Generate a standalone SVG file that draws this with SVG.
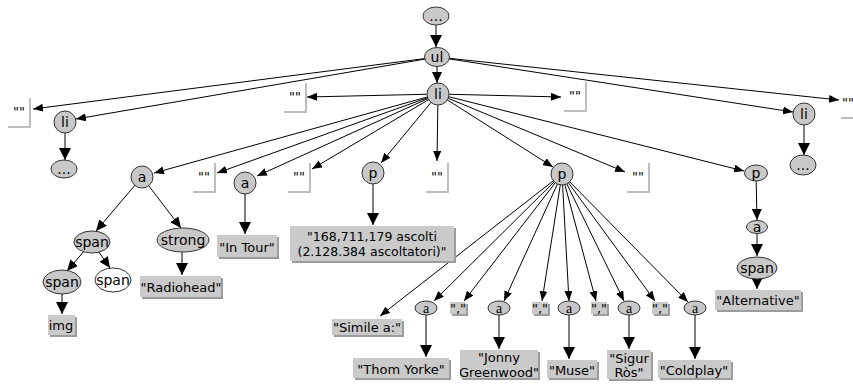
<svg xmlns="http://www.w3.org/2000/svg" width="853" height="385" viewBox="0 0 853 385">
<style>
.n{fill:#c8c8c8;stroke:#333;stroke-width:1}
.w{fill:#fff;stroke:#333;stroke-width:1}
.t{font-family:"DejaVu Sans",sans-serif;font-size:14px;text-anchor:middle;fill:#000}
.s{font-family:"Liberation Serif",serif;font-size:14px;text-anchor:middle;fill:#000}
.lt{font-family:"DejaVu Sans",sans-serif;font-size:13px;text-anchor:middle;fill:#000}
.bx{fill:#cacaca}
.sh{fill:#9c9c9c}
.eb{fill:none;stroke:#bdbdbd;stroke-width:2}
.e{stroke:#000;stroke-width:1;fill:none}
.sm{marker-end:url(#sm)}
.md{marker-end:url(#md)}
.bg{marker-end:url(#bg)}
</style>
<defs>
<marker id="sm" markerUnits="userSpaceOnUse" markerWidth="10" markerHeight="8" refX="10" refY="4" orient="auto"><path d="M0,0 L10,4 L0,8 z" fill="#000"/></marker>
<marker id="md" markerUnits="userSpaceOnUse" markerWidth="11" markerHeight="10" refX="11" refY="5" orient="auto"><path d="M0,0 L11,5 L0,10 z" fill="#000"/></marker>
<marker id="bg" markerUnits="userSpaceOnUse" markerWidth="12" markerHeight="12" refX="12" refY="6" orient="auto"><path d="M0,0 L12,6 L0,12 z" fill="#000"/></marker>
<clipPath id="cj"><rect x="460" y="350" width="78" height="28"/></clipPath>
<clipPath id="cs"><rect x="607" y="350" width="44" height="29"/></clipPath>
</defs>

<g id="connectors">
<line class="e bg" x1="436" y1="25" x2="436" y2="47"/>
<line class="e md" x1="437" y1="57" x2="437" y2="83"/>
<line class="e sm" x1="437" y1="57" x2="33" y2="109"/>
<line class="e sm" x1="437" y1="57" x2="76" y2="119"/>
<line class="e sm" x1="437" y1="57" x2="793" y2="112"/>
<line class="e sm" x1="437" y1="57" x2="839" y2="100"/>
<line class="e bg" x1="65" y1="122" x2="65" y2="160"/>
<line class="e bg" x1="804" y1="114" x2="804" y2="155"/>
<line class="e sm" x1="438" y1="94" x2="307" y2="97"/>
<line class="e sm" x1="438" y1="94" x2="561" y2="97"/>
<line class="e sm" x1="438" y1="94" x2="154" y2="173"/>
<line class="e sm" x1="438" y1="94" x2="217" y2="173"/>
<line class="e sm" x1="438" y1="94" x2="257" y2="176"/>
<line class="e sm" x1="438" y1="94" x2="312" y2="169"/>
<line class="e sm" x1="438" y1="94" x2="381" y2="163"/>
<line class="e sm" x1="438" y1="94" x2="437" y2="161"/>
<line class="e sm" x1="438" y1="94" x2="553" y2="167"/>
<line class="e sm" x1="438" y1="94" x2="625" y2="172"/>
<line class="e sm" x1="438" y1="94" x2="744" y2="171"/>
<line class="e md" x1="142" y1="177" x2="96" y2="231"/>
<line class="e md" x1="142" y1="177" x2="181" y2="228"/>
<line class="e bg" x1="245" y1="183" x2="245" y2="234"/>
<line class="e bg" x1="373" y1="173" x2="373" y2="225"/>
<line class="e bg" x1="182" y1="240" x2="182" y2="275"/>
<line class="e md" x1="92" y1="242" x2="67" y2="271"/>
<line class="e md" x1="92" y1="242" x2="110" y2="268"/>
<line class="e bg" x1="62" y1="282" x2="62" y2="314"/>
<line class="e sm" x1="562" y1="174" x2="380" y2="316"/>
<line class="e sm" x1="562" y1="174" x2="434" y2="301"/>
<line class="e sm" x1="562" y1="174" x2="464" y2="301"/>
<line class="e sm" x1="562" y1="174" x2="504" y2="301"/>
<line class="e sm" x1="562" y1="174" x2="542" y2="301"/>
<line class="e sm" x1="562" y1="174" x2="569" y2="301"/>
<line class="e sm" x1="562" y1="174" x2="596" y2="301"/>
<line class="e sm" x1="562" y1="174" x2="624" y2="301"/>
<line class="e sm" x1="562" y1="174" x2="655" y2="301"/>
<line class="e sm" x1="562" y1="174" x2="688" y2="302"/>
<line class="e bg" x1="426" y1="308" x2="426" y2="357"/>
<line class="e bg" x1="499" y1="308" x2="499" y2="349"/>
<line class="e bg" x1="569" y1="308" x2="569" y2="359"/>
<line class="e bg" x1="629" y1="308" x2="629" y2="349"/>
<line class="e bg" x1="695" y1="308" x2="695" y2="359"/>
<line class="e md" x1="756" y1="173" x2="757" y2="220"/>
<line class="e bg" x1="757" y1="227" x2="757" y2="256"/>
<line class="e bg" x1="757" y1="268" x2="757" y2="289"/>
</g>

<g id="n-top"><ellipse class="n" cx="436" cy="16" rx="13" ry="9"/><text class="t" x="436" y="21">...</text></g>
<g id="n-ul"><ellipse class="n" cx="437" cy="57" rx="12.5" ry="9.5"/><text class="t" x="437" y="62">ul</text></g>
<g id="n-li"><circle class="n" cx="438" cy="94" r="11"/><text class="t" x="438" y="99">li</text></g>
<g id="n-li-left"><circle class="n" cx="65" cy="122" r="11"/><text class="t" x="65" y="127">li</text></g>
<g id="n-dots-left"><ellipse class="n" cx="64" cy="169" rx="13" ry="9"/><text class="t" x="64" y="174">...</text></g>
<g id="n-li-right"><circle class="n" cx="804" cy="114" r="11"/><text class="t" x="804" y="119">li</text></g>
<g id="n-dots-right"><ellipse class="n" cx="803" cy="165" rx="13" ry="10"/><text class="t" x="803" y="170">...</text></g>

<g id="e1"><path class="eb" d="M30 98 V127 H8"/><text class="lt" x="19" y="116">""</text></g>
<g id="e2"><path class="eb" d="M306 83 V112 H284"/><text class="lt" x="295" y="101">""</text></g>
<g id="e3"><path class="eb" d="M586 82 V111 H564"/><text class="lt" x="575" y="100">""</text></g>
<g id="e4"><path class="eb" d="M863 89 V118 H841"/><text class="lt" x="848" y="107">""</text></g>
<g id="e5"><path class="eb" d="M215 163 V192 H193"/><text class="lt" x="204" y="181">""</text></g>
<g id="e6"><path class="eb" d="M310 163 V192 H288"/><text class="lt" x="299" y="181">""</text></g>
<g id="e7"><path class="eb" d="M448 163 V192 H426"/><text class="lt" x="437" y="181">""</text></g>
<g id="e8"><path class="eb" d="M649 163 V192 H627"/><text class="lt" x="638" y="181">""</text></g>

<g id="n-a1"><circle class="n" cx="142" cy="177" r="11"/><text class="t" x="142" y="182">a</text></g>
<g id="n-a2"><circle class="n" cx="245" cy="183" r="11"/><text class="t" x="245" y="188">a</text></g>
<g id="n-p1"><circle class="n" cx="373" cy="173" r="11"/><text class="t" x="373" y="178">p</text></g>
<g id="n-p2"><circle class="n" cx="562" cy="174" r="11"/><text class="t" x="562" y="179">p</text></g>
<g id="n-p3"><ellipse class="n" cx="756" cy="173" rx="11.5" ry="8"/><text class="t" x="756" y="178">p</text></g>
<g id="n-a3"><ellipse class="n" cx="757" cy="227" rx="10.5" ry="6.5"/><text class="t" x="757" y="232">a</text></g>
<g id="n-span3"><ellipse class="n" cx="757" cy="268" rx="20" ry="11"/><text class="t" x="757" y="273">span</text></g>

<g id="n-span"><ellipse class="n" cx="92" cy="242" rx="18" ry="11"/><text class="t" x="92" y="247">span</text></g>
<g id="n-strong"><ellipse class="n" cx="183" cy="240" rx="26" ry="12"/><text class="t" x="183" y="245">strong</text></g>
<g id="n-span-g"><ellipse class="n" cx="62" cy="282" rx="19" ry="12"/><text class="t" x="62" y="287">span</text></g>
<g id="n-span-w"><ellipse class="w" cx="113" cy="280" rx="18" ry="12"/><text class="t" x="113" y="285">span</text></g>

<g id="n-sa1"><ellipse class="n" cx="426" cy="308" rx="11" ry="7"/><text class="s" x="426" y="313">a</text></g>
<g id="n-sa2"><ellipse class="n" cx="499" cy="308" rx="11" ry="7"/><text class="s" x="499" y="313">a</text></g>
<g id="n-sa3"><ellipse class="n" cx="569" cy="308" rx="11" ry="7"/><text class="s" x="569" y="313">a</text></g>
<g id="n-sa4"><ellipse class="n" cx="629" cy="308" rx="11" ry="7"/><text class="s" x="629" y="313">a</text></g>
<g id="n-sa5"><ellipse class="n" cx="695" cy="308" rx="11" ry="7"/><text class="s" x="695" y="313">a</text></g>

<g id="t-intour"><rect class="sh" x="219" y="237" width="60" height="22"/><rect class="bx" x="217" y="235" width="60" height="22"/><text class="lt" x="247" y="252">"In Tour"</text></g>
<g id="t-ascolti"><rect class="sh" x="292" y="228" width="164" height="35"/><rect class="bx" x="290" y="226" width="164" height="35"/><text class="lt" x="372" y="241" style="font-size:12.5px">"168,711,179 ascolti</text><text class="lt" x="372" y="256" style="font-size:12.5px">(2.128.384 ascoltatori)"</text></g>
<g id="t-radiohead"><rect class="sh" x="142" y="278" width="81" height="21"/><rect class="bx" x="140" y="276" width="81" height="21"/><text class="lt" x="181" y="292">"Radiohead"</text></g>
<g id="t-img"><rect class="sh" x="50" y="317" width="27" height="20"/><rect class="bx" x="48" y="315" width="27" height="20"/><text class="lt" x="61" y="330">img</text></g>
<g id="t-simile"><rect class="sh" x="334" y="321" width="70" height="16"/><rect class="bx" x="332" y="319" width="70" height="16"/><text class="lt" x="367" y="332">"Simile a:"</text></g>
<g id="t-c1"><rect class="sh" x="452" y="304" width="16" height="12"/><rect class="bx" x="450" y="302" width="16" height="12"/><text class="lt" x="458" y="313">","</text></g>
<g id="t-c2"><rect class="sh" x="534" y="304" width="16" height="12"/><rect class="bx" x="532" y="302" width="16" height="12"/><text class="lt" x="540" y="313">","</text></g>
<g id="t-c3"><rect class="sh" x="593" y="304" width="16" height="12"/><rect class="bx" x="591" y="302" width="16" height="12"/><text class="lt" x="599" y="313">","</text></g>
<g id="t-c4"><rect class="sh" x="654" y="304" width="16" height="12"/><rect class="bx" x="652" y="302" width="16" height="12"/><text class="lt" x="660" y="313">","</text></g>
<g id="t-thom"><rect class="sh" x="355" y="360" width="96" height="20"/><rect class="bx" x="353" y="358" width="96" height="20"/><text class="lt" x="401" y="374">"Thom Yorke"</text></g>
<g id="t-jonny"><rect class="sh" x="462" y="352" width="78" height="28"/><rect class="bx" x="460" y="350" width="78" height="28"/><g clip-path="url(#cj)"><text class="lt" x="499" y="362">"Jonny</text><text class="lt" x="499" y="377">Greenwood"</text></g></g>
<g id="t-muse"><rect class="sh" x="549" y="362" width="50" height="18"/><rect class="bx" x="547" y="360" width="50" height="18"/><text class="lt" x="572" y="375">"Muse"</text></g>
<g id="t-sigur"><rect class="sh" x="609" y="352" width="44" height="29"/><rect class="bx" x="607" y="350" width="44" height="29"/><g clip-path="url(#cs)"><text class="lt" x="629" y="363">"Sigur</text><text class="lt" x="629" y="377">Ròs"</text></g></g>
<g id="t-coldplay"><rect class="sh" x="660" y="362" width="73" height="18"/><rect class="bx" x="658" y="360" width="73" height="18"/><text class="lt" x="694" y="375">"Coldplay"</text></g>
<g id="t-alt"><rect class="sh" x="717" y="292" width="86" height="20"/><rect class="bx" x="715" y="290" width="86" height="20"/><text class="lt" x="758" y="305">"Alternative"</text></g>
</svg>
